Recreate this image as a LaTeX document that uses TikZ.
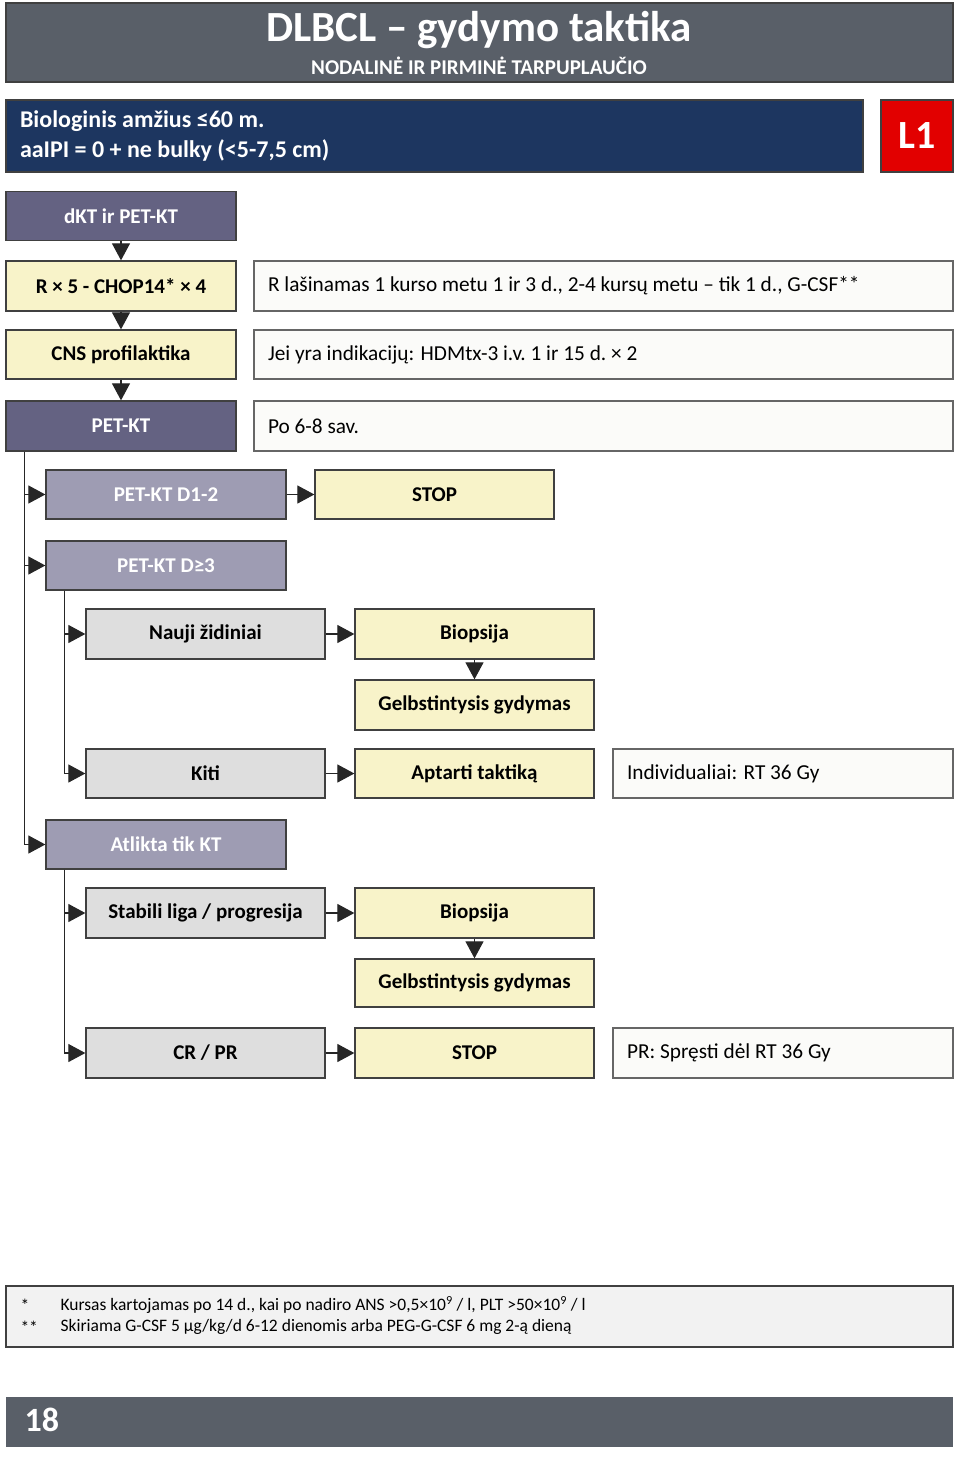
\documentclass[tikz,border=0pt]{standalone}
\usepackage{fontspec}
\setmainfont{Carlito}
\usetikzlibrary{arrows.meta,calc}
\definecolor{barGrey}{RGB}{89,95,104}
\definecolor{headBlue}{RGB}{29,54,96}
\definecolor{levelRed}{RGB}{226,0,0}
\definecolor{darkPurple}{RGB}{100,98,130}
\definecolor{lightPurple}{RGB}{158,156,179}
\definecolor{paleYellow}{RGB}{248,243,201}
\definecolor{paleGrey}{RGB}{222,222,222}
\definecolor{noteWhite}{RGB}{251,251,249}
\definecolor{footGrey}{RGB}{242,242,242}
\definecolor{edgeGrey}{RGB}{64,64,64}
\tikzset{
  box/.style={rectangle,draw=edgeGrey,line width=1.3pt,inner sep=0pt,
    font=\fontsize{21}{25}\selectfont\bfseries},
  darkbox/.style={box,fill=darkPurple,text=white,minimum width=230pt,minimum height=49pt},
  lightbox/.style={box,fill=lightPurple,text=white,minimum width=240pt,minimum height=49pt},
  yellowbox/.style={box,fill=paleYellow,minimum width=239pt,minimum height=49pt},
  greybox/.style={box,fill=paleGrey,minimum width=239pt,minimum height=49pt},
  notebox/.style={rectangle,draw=edgeGrey!80,line width=1.3pt,fill=noteWhite,
    minimum height=49pt,inner xsep=14pt,inner ysep=0pt,align=flush left,
    font=\fontsize{21.3}{25}\selectfont},
  link/.style={line width=1.2pt,draw=black!85}
}
\begin{document}
\begin{tikzpicture}[x=1pt,y=-1pt,>={Triangle[length=17pt,width=18pt]}]
    \useasboundingbox (0,0) rectangle (960,1459);
    % header
    \node[rectangle,draw=edgeGrey,line width=1.3pt,fill=barGrey,minimum width=947pt,minimum height=79pt] (head) at (479.5,42.5) {};
    \node[text=white,font=\fontsize{43}{46}\selectfont\bfseries] (headtitle) at (479,30) {DLBCL – gydymo taktika};
    \node[text=white,font=\fontsize{21}{23}\selectfont\bfseries] (headsub) at (479,66) {NODALINĖ IR PIRMINĖ TARPUPLAUČIO};
    \node[rectangle,draw=edgeGrey,line width=1.3pt,fill=headBlue,text=white,minimum width=857pt,minimum height=72pt,
      inner xsep=14pt,text width=829pt,align=flush left,font=\fontsize{24}{30}\selectfont\bfseries] (group) at (434.5,136)
      {Biologinis amžius ≤60 m.\\aaIPI = 0 + ne bulky (<5-7,5 cm)};
    \node[rectangle,draw=edgeGrey,line width=1.3pt,fill=levelRed,text=white,minimum width=72pt,minimum height=72pt,
      font=\fontsize{40}{42}\selectfont\bfseries] (level) at (917,136) {L1};
    % main column
    \node[darkbox] (dkt) at (121,216) {dKT ir PET-KT};
    \node[yellowbox,minimum width=230pt,minimum height=50pt] (rchop) at (121,286) {R × 5 - CHOP14* × 4};
    \node[yellowbox,minimum width=230pt] (cns) at (121,354.5) {CNS profilaktika};
    \node[darkbox,minimum height=50pt] (petkt) at (121,426) {PET-KT};
    \node[notebox,minimum height=50pt,text width=671pt] (rnote) at (603.5,286) {R lašinamas 1 kurso metu 1 ir 3 d., 2-4 kursų metu – tik 1 d., G-CSF**};
    \node[notebox,text width=671pt] (cnsnote) at (603.5,354.5) {Jei yra indikacijų: HDMtx-3 i.v.\ 1 ir 15 d.\ × 2};
    \node[notebox,minimum height=50pt,text width=671pt] (petnote) at (603.5,426) {Po 6-8 sav.};
    % PET-KT results
    \node[lightbox] (d12) at (166,494.5) {PET-KT D1-2};
    \node[yellowbox] (stopa) at (434.5,494.5) {STOP};
    \node[lightbox] (d3) at (166,565.5) {PET-KT D≥3};
    \node[greybox,minimum height=50pt] (nauji) at (205.5,634) {Nauji židiniai};
    \node[yellowbox,minimum height=50pt] (biopa) at (474.5,634) {Biopsija};
    \node[yellowbox,minimum height=50pt] (gelba) at (474.5,705) {Gelbstintysis gydymas};
    \node[greybox] (kiti) at (205.5,773.5) {Kiti};
    \node[yellowbox] (aptarti) at (474.5,773.5) {Aptarti taktiką};
    \node[notebox,text width=312pt] (indiv) at (783,773.5) {Individualiai: RT 36 Gy};
    \node[lightbox] (atlikta) at (166,844.5) {Atlikta tik KT};
    \node[greybox,minimum height=50pt] (stabili) at (205.5,913) {Stabili liga / progresija};
    \node[yellowbox,minimum height=50pt] (biopb) at (474.5,913) {Biopsija};
    \node[yellowbox,minimum height=48pt] (gelbb) at (474.5,983) {Gelbstintysis gydymas};
    \node[greybox,minimum height=50pt] (crpr) at (205.5,1053) {CR / PR};
    \node[yellowbox,minimum height=50pt] (stopb) at (474.5,1053) {STOP};
    \node[notebox,minimum height=50pt,text width=312pt] (prnote) at (783,1053) {PR: Spręsti dėl RT 36 Gy};
    % connectors
    \draw[link,->] (dkt) -- (rchop);
    \draw[link,->] (rchop) -- (cns);
    \draw[link,->] (cns) -- (petkt);
    \draw[link,->] ($(petkt.south west)+(19,0)$) |- (d12.west);
    \draw[link,->] ($(petkt.south west)+(19,0)$) |- (d3.west);
    \draw[link,->] ($(petkt.south west)+(19,0)$) |- (atlikta.west);
    \draw[link,->] (d12) -- (stopa);
    \draw[link,->] ($(d3.south west)+(19,0)$) |- (nauji.west);
    \draw[link,->] ($(d3.south west)+(19,0)$) |- (kiti.west);
    \draw[link,->] (nauji) -- (biopa);
    \draw[link,->] (biopa) -- (gelba);
    \draw[link,->] (kiti) -- (aptarti);
    \draw[link,->] ($(atlikta.south west)+(19,0)$) |- (stabili.west);
    \draw[link,->] ($(atlikta.south west)+(19,0)$) |- (crpr.west);
    \draw[link,->] (stabili) -- (biopb);
    \draw[link,->] (biopb) -- (gelbb);
    \draw[link,->] (crpr) -- (stopb);
    % footnotes
    \node[rectangle,draw=edgeGrey,line width=1.3pt,fill=footGrey,minimum width=947pt,minimum height=61pt] (foot) at (479.5,1316.5) {};
    \node[anchor=west,font=\fontsize{17.5}{20}\selectfont] (starA) at (17,1305) {*};
    \node[anchor=west,font=\fontsize{17.5}{20}\selectfont] (starB) at (17,1327) {**};
    \node[anchor=west,font=\fontsize{17.5}{20}\selectfont] (footA) at (57,1305) {Kursas kartojamas po 14 d., kai po nadiro ANS >0,5×10\textsuperscript{9} / l, PLT >50×10\textsuperscript{9} / l};
    \node[anchor=west,font=\fontsize{17.5}{20}\selectfont] (footB) at (57,1327) {Skiriama G-CSF 5 µg/kg/d 6-12 dienomis arba PEG-G-CSF 6 mg 2-ą dieną};
    % page number
    \node[rectangle,fill=barGrey,minimum width=947pt,minimum height=50pt] (pagebar) at (479.5,1422) {};
    \node[anchor=west,text=white,font=\fontsize{34}{36}\selectfont\bfseries] (pagenum) at (21,1420) {18};
\end{tikzpicture}
\end{document}
